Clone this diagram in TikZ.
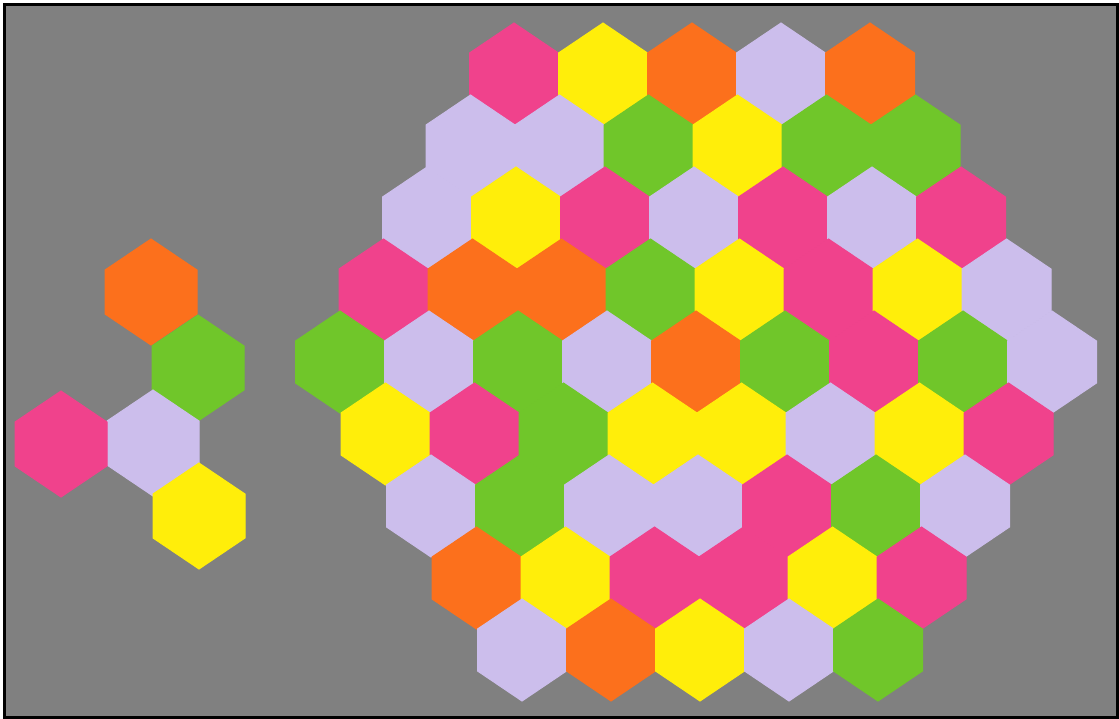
\documentclass[tikz,border=0pt]{standalone}
\usepackage{tikz}

\definecolor{bggray}{RGB}{128,128,128}
\definecolor{hpink}{RGB}{240,66,140}
\definecolor{hyellow}{RGB}{255,238,10}
\definecolor{horange}{RGB}{252,112,28}
\definecolor{hgreen}{RGB}{112,198,42}
\definecolor{hlilac}{RGB}{204,190,236}

% one hexagon piece: colour, centre x, centre y, half width, top, side
\newcommand{\hexpiece}[6]{%
  \filldraw[fill=#1, draw=#1, line width=0.02cm] (#2,#3) +(0,-#5) -- +(#4,-#6)
    -- +(#4,#6) -- +(0,#5) -- +(-#4,#6) -- +(-#4,-#6) -- cycle;}

\begin{document}
\begin{tikzpicture}[x=0.02cm, y=-0.02cm]
    % Background and frame
    \useasboundingbox (0,0) rectangle (1119,718);
    \fill[white] (0,0) rectangle (1119,718);
    \fill[bggray] (4,4) rectangle (1117,717);
    \draw[black, line width=0.06cm] (4.5,4) rectangle (1117,717);

    % Small group on the left
    \hexpiece{horange}{151}{292}{46}{53}{22}
    \hexpiece{hgreen}{198}{368}{46}{53}{22}
    \hexpiece{hlilac}{153}{443}{46}{53}{22}
    \hexpiece{hpink}{61}{444}{46}{53}{22}
    \hexpiece{hyellow}{199}{516}{46}{53}{22}

    % Large board, row by row from the top
    \foreach \row/\cols in {
        0/{hpink,hyellow,horange,hlilac,horange},
        1/{hlilac,hlilac,hgreen,hyellow,hgreen,hgreen},
        2/{hlilac,hyellow,hpink,hlilac,hpink,hlilac,hpink},
        3/{hpink,horange,horange,hgreen,hyellow,hpink,hyellow,hlilac},
        4/{hgreen,hlilac,hgreen,hlilac,horange,hgreen,hpink,hgreen,hlilac},
        5/{hyellow,hpink,hgreen,hyellow,hyellow,hlilac,hyellow,hpink},
        6/{hlilac,hgreen,hlilac,hlilac,hpink,hgreen,hlilac},
        7/{horange,hyellow,hpink,hpink,hyellow,hpink},
        8/{hlilac,horange,hyellow,hlilac,hgreen}} {
        \pgfmathsetmacro{\off}{abs(\row-4)}
        \foreach \c [count=\i from 0] in \cols {
            \pgfmathsetmacro{\cx}{340+\off*44.5+(\row-4)+\i*89}
            \pgfmathsetmacro{\cy}{74+\row*72}
            \hexpiece{\c}{\cx}{\cy}{44.5}{51}{21}
        }
    }

\end{tikzpicture}
\end{document}
